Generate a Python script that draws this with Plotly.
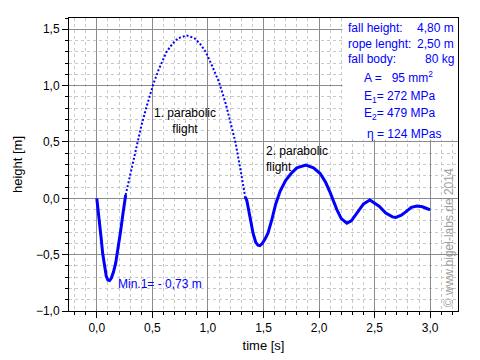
import plotly.graph_objects as go

# --- data ---
# rope phase 1 (fall into the rope)
t_rope1 = [0.00, 0.01, 0.024, 0.04, 0.053, 0.07, 0.085, 0.10, 0.115, 0.13, 0.15, 0.17, 0.19, 0.216, 0.235, 0.25, 0.26]
h_rope1 = [0.00, -0.08, -0.19, -0.36, -0.49, -0.61, -0.69, -0.725, -0.73, -0.71, -0.655, -0.575, -0.46, -0.28, -0.14, -0.015, 0.03]

# 1. parabolic flight
t_par1 = [0.26, 0.30, 0.363, 0.40, 0.45, 0.51, 0.56, 0.628, 0.68, 0.73, 0.81, 0.88, 0.93, 0.98, 1.04, 1.10, 1.16, 1.20, 1.247, 1.29, 1.335]
h_par1 = [0.03, 0.20, 0.487, 0.64, 0.82, 1.018, 1.15, 1.30, 1.37, 1.42, 1.445, 1.42, 1.37, 1.30, 1.17, 1.03, 0.84, 0.69, 0.50, 0.27, 0.014]

# rope phase 2 and following oscillation
t_rest = [1.335, 1.35, 1.377, 1.406, 1.43, 1.45, 1.468, 1.49, 1.515, 1.54, 1.575, 1.61, 1.65, 1.70, 1.748, 1.80, 1.88,
          1.95, 2.01, 2.06, 2.10, 2.16, 2.20, 2.25, 2.29, 2.32, 2.37, 2.40, 2.457, 2.50, 2.54, 2.60, 2.66, 2.69,
          2.74, 2.78, 2.83, 2.88, 2.93, 2.986, 3.00]
h_rest = [0.014, -0.02, -0.16, -0.31, -0.39, -0.415, -0.42, -0.40, -0.36, -0.31, -0.19, -0.05, 0.065, 0.16, 0.22, 0.27, 0.295,
          0.27, 0.22, 0.14, 0.05, -0.10, -0.18, -0.22, -0.20, -0.16, -0.09, -0.05, -0.015, -0.04, -0.07, -0.13, -0.165, -0.17,
          -0.15, -0.12, -0.08, -0.068, -0.075, -0.097, -0.10]

info_labels = ["fall height:", "rope lenght:", "fall body:"]
info_values = ["4,80 m", "2,50 m", "80 kg"]
params = ["A =   95 mm<sup>2</sup>", "E<sub>1</sub>= 272 MPa", "E<sub>2</sub>= 479 MPa", "η = 124 MPas"]

BLUE = "#0000ff"
FONT = "Liberation Sans, Arial, sans-serif"

fig = go.Figure()
fig.add_trace(go.Scatter(x=t_rope1, y=h_rope1, mode="lines", line=dict(color=BLUE, width=3), hoverinfo="skip"))
fig.add_trace(go.Scatter(x=t_par1, y=h_par1, mode="lines", line=dict(color=BLUE, width=2, dash="2px,2px"), hoverinfo="skip"))
fig.add_trace(go.Scatter(x=t_rest, y=h_rest, mode="lines", line=dict(color=BLUE, width=3), hoverinfo="skip"))

axis_common = dict(
    showline=True, linecolor="black", linewidth=1, mirror=True,
    ticks="outside", ticklen=6, tickcolor="black", tickwidth=1,
    showgrid=True, gridcolor="#8c8c8c", gridwidth=1,
    zeroline=False, tickformat=".1f",
    tickfont=dict(family=FONT, size=12, color="black"),
    minor=dict(dtick=0.1, ticks="outside", ticklen=3, tickcolor="black",
               showgrid=True, gridcolor="#c8c8c8", griddash="dot", gridwidth=1),
)

fig.update_layout(
    width=480, height=360,
    margin=dict(l=54, r=30, t=9, b=57),
    paper_bgcolor="white", plot_bgcolor="white",
    showlegend=False,
    separators=",.",
    font=dict(family=FONT, size=12, color="black"),
    xaxis=dict(range=[-0.25, 3.25], dtick=0.5, tick0=0,
               title=dict(text="time [s]", font=dict(family=FONT, size=13), standoff=6), **axis_common),
    yaxis=dict(range=[-1.0, 1.6], dtick=0.5, tick0=0,
               title=dict(text="height [m]", font=dict(family=FONT, size=13), standoff=10), **axis_common),
)

# white info box
fig.add_shape(type="rect", xref="x", yref="y", x0=2.21, x1=3.25, y0=0.52, y1=1.6,
              fillcolor="white", line=dict(width=0), layer="above")

ys_info = [1.51, 1.37, 1.24]
for lab, val, yy in zip(info_labels, info_values, ys_info):
    fig.add_annotation(x=2.245, y=yy, xref="x", yref="y", text=lab, showarrow=False,
                       xanchor="left", yanchor="middle", font=dict(color=BLUE, size=12, family=FONT))
    fig.add_annotation(x=3.23, y=yy, xref="x", yref="y", text=val, showarrow=False,
                       xanchor="right", yanchor="middle", font=dict(color=BLUE, size=12, family=FONT))

ys_par = [1.08, 0.90, 0.75, 0.575]
xs_par = [2.39, 2.39, 2.39, 2.41]
for txt, xx, yy in zip(params, xs_par, ys_par):
    fig.add_annotation(x=xx, y=yy, xref="x", yref="y", text=txt, showarrow=False,
                       xanchor="left", yanchor="middle", font=dict(color=BLUE, size=12, family=FONT))

fig.add_annotation(x=0.79, y=0.69, xref="x", yref="y", text="1. parabolic<br>flight", showarrow=False,
                   align="center", xanchor="center", yanchor="middle", font=dict(color="black", size=12, family=FONT))
fig.add_annotation(x=1.50, y=0.35, xref="x", yref="y", text="2. parabolic<br>flight", showarrow=False,
                   align="left", xanchor="left", yanchor="middle", font=dict(color="black", size=12, family=FONT))
fig.add_annotation(x=0.175, y=-0.76, xref="x", yref="y", text="Min.1= - 0,73 m", showarrow=False,
                   xanchor="left", yanchor="middle", font=dict(color=BLUE, size=12, family=FONT))

fig.add_annotation(x=3.165, y=-0.35, xref="x", yref="y", text="© www.bigel-labs.de 2014", showarrow=False,
                   textangle=-90, xanchor="center", yanchor="middle",
                   font=dict(color="#a0a0a0", size=12, family=FONT))

fig.write_html("out.html")
